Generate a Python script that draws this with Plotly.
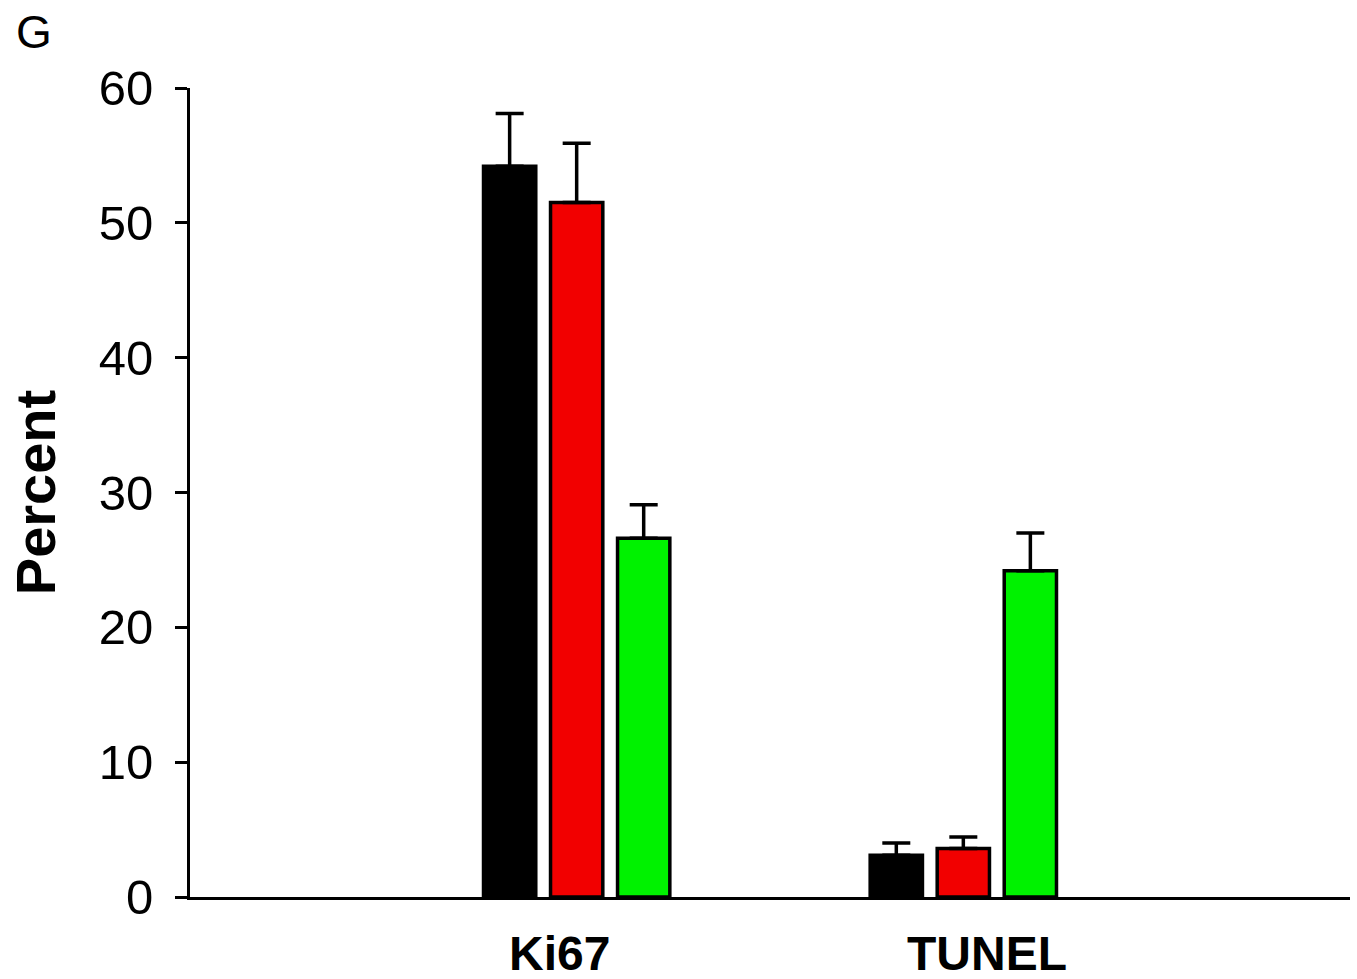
import plotly.graph_objects as go

categories = ["Ki67", "TUNEL"]
group_names = ["Control", "Group 2", "Group 3"]
group_colors = ["#000000", "#f20000", "#00f200"]
values = [
    [54.2, 3.1],
    [51.5, 3.6],
    [26.6, 24.2],
]
errors = [
    [3.9, 0.9],
    [4.4, 0.85],
    [2.5, 2.8],
]
yticks = [0, 10, 20, 30, 40, 50, 60]
label_shift = [-17, 24]

FONT = "Arial, Liberation Sans, sans-serif"

fig = go.Figure()
for name, color, vals, errs in zip(group_names, group_colors, values, errors):
    fig.add_trace(go.Bar(
        x=categories, y=vals, name=name,
        marker=dict(color=color, line=dict(color="black", width=3.5)),
        error_y=dict(type="data", array=errs, arrayminus=[0] * len(errs),
                     symmetric=False, color="black", thickness=3.5, width=14),
    ))

for cat, shift in zip(categories, label_shift):
    fig.add_annotation(x=cat, xref="x", y=0, yref="paper", yanchor="top",
                       yshift=-28, xshift=shift, showarrow=False, text=f"<b>{cat}</b>",
                       font=dict(family=FONT, size=48, color="black"))

fig.add_annotation(x=0, xref="paper", xanchor="left", y=1, yref="paper", yanchor="top",
                   text="G", showarrow=False, xshift=-176, yshift=84,
                   font=dict(family=FONT, size=46, color="black"))

fig.update_layout(
    width=1357, height=979,
    margin=dict(l=190, r=7, t=88, b=82),
    paper_bgcolor="white", plot_bgcolor="white",
    barmode="group", bargap=0.48, bargroupgap=0.22,
    showlegend=False,
    font=dict(family=FONT, color="black"),
    xaxis=dict(type="category", range=[-1, 2], showline=True, linecolor="black",
               linewidth=3, showticklabels=False, ticks="", showgrid=False, zeroline=False),
    yaxis=dict(range=[0, 60], tickvals=yticks, ticks="outside", ticklen=12, tickwidth=3,
               tickcolor="black", showline=True, linecolor="black", linewidth=3,
               showgrid=False, zeroline=False, tickfont=dict(family=FONT, size=49),
               ticklabelstandoff=12,
               title=dict(text="<b>Percent</b>", font=dict(family=FONT, size=56), standoff=26)),
)

fig.write_html("out.html", config={"displayModeBar": False},
               post_script="document.body.style.margin='0';")
